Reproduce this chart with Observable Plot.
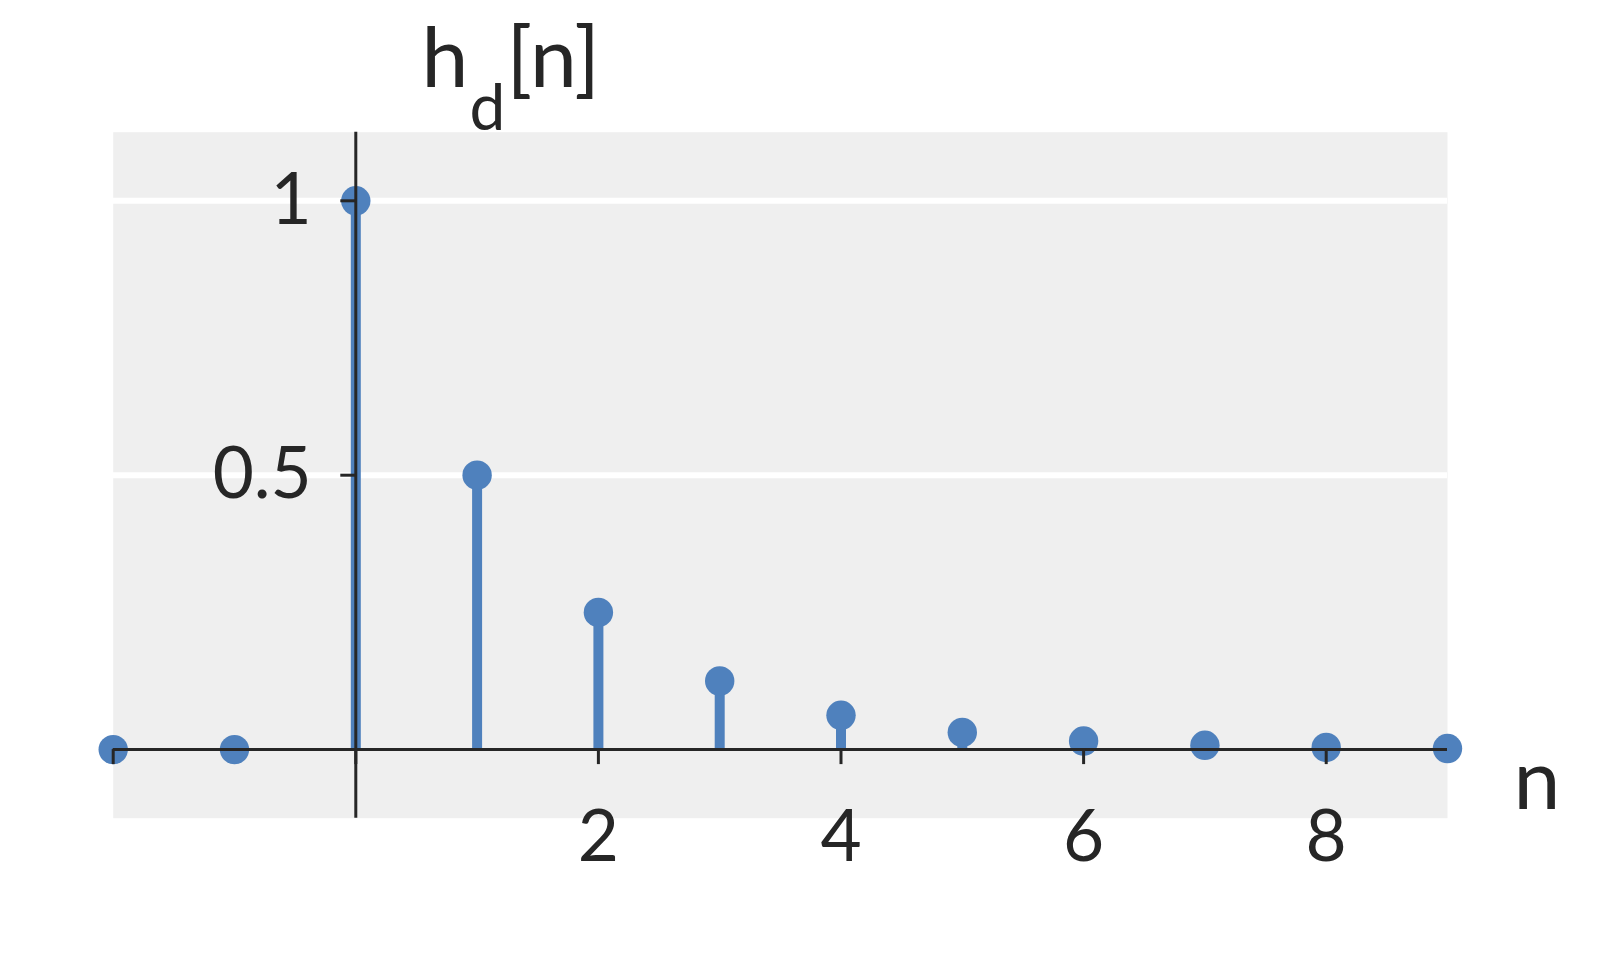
<!DOCTYPE html>
<html>
<head>
<meta charset="utf-8">
<script src="https://cdn.jsdelivr.net/npm/d3@7"></script>
<script src="https://cdn.jsdelivr.net/npm/@observablehq/plot@0.6"></script>
<style>
  html, body { margin: 0; padding: 0; background: #ffffff; }
  #chart { width: 1598px; height: 960px; }
</style>
</head>
<body>
<div id="chart"></div>
<script>
// ---- data ----
const nValues = [-2, -1, 0, 1, 2, 3, 4, 5, 6, 7, 8, 9];
const hValues = [0, 0, 1, 0.5, 0.25, 0.125, 0.0625, 0.03125, 0.015625, 0.0078125, 0.00390625, 0.001953125];
const xTicks = [-2, 0, 2, 4, 6, 8];
const xTickLabels = ["", "", "2", "4", "6", "8"];
const yTicks = [0.5, 1];
const yTickLabels = ["0.5", "1"];
const xDomain = [-2, 9];
const yDomain = [-0.125, 1.125];

const data = nValues.map((n, i) => ({n, h: hValues[i]}));

// ---- layout ----
const width = 1598, height = 960;
const marginLeft = 112.7, marginRight = 151, marginTop = 131.7, marginBottom = 142.3;
const blue = "#4F81BD";
const ink = "#262626";

const xPix = d3.scaleLinear(xDomain, [marginLeft, width - marginRight]);
const yPix = d3.scaleLinear(yDomain, [height - marginBottom, marginTop]);
const axisXdy = yPix(0) - (height - marginBottom);
const axisYdx = xPix(0) - marginLeft;

const chart = Plot.plot({
  width, height, marginLeft, marginRight, marginTop, marginBottom,
  style: {fontFamily: "Lato", fontSize: "71px", color: ink, background: "#ffffff"},
  x: {domain: xDomain, label: null},
  y: {domain: yDomain, label: null},
  marks: [
    Plot.frame({fill: "#EFEFEF", stroke: null}),
    Plot.ruleY(yTicks, {stroke: "#ffffff", strokeWidth: 6}),
    Plot.ruleX(data, {x: "n", y1: 0, y2: "h", stroke: blue, strokeWidth: 10}),
    Plot.dot(data, {x: "n", y: "h", r: 14.7, fill: blue, stroke: null}),
    Plot.ruleX([0], {stroke: ink, strokeWidth: 3}),
    Plot.ruleY([0], {stroke: ink, strokeWidth: 3}),
    Plot.axisX({
      anchor: "bottom", dy: axisXdy, ticks: xTicks,
      tickFormat: (d) => xTickLabels[xTicks.indexOf(d)],
      tickSize: 15, tickPadding: 46, strokeWidth: 3, label: null
    }),
    Plot.axisY({
      anchor: "left", dx: axisYdx, ticks: yTicks,
      tickFormat: (d) => yTickLabels[yTicks.indexOf(d)],
      tickSize: 15, tickPadding: 29, strokeWidth: 3, label: null
    }),
    Plot.text(["h"], {frameAnchor: "top-left", text: d => d, textAnchor: "start", lineAnchor: "bottom",
      dx: 421 - marginLeft, dy: 86 - marginTop, fontSize: 84, fill: ink}),
    Plot.text(["d"], {frameAnchor: "top-left", text: d => d, textAnchor: "start", lineAnchor: "bottom",
      dx: 469 - marginLeft, dy: 129 - marginTop, fontSize: 64, fill: ink}),
    Plot.text(["[n]"], {frameAnchor: "top-left", text: d => d, textAnchor: "start", lineAnchor: "bottom",
      dx: 506 - marginLeft, dy: 86 - marginTop, fontSize: 84, fill: ink}),
    Plot.text(["n"], {frameAnchor: "bottom-right", text: d => d, textAnchor: "start", lineAnchor: "bottom",
      dx: 1513 - (width - marginRight), dy: 808 - (height - marginBottom), fontSize: 84, fill: ink})
  ]
});
document.getElementById("chart").appendChild(chart);
</script>
</body>
</html>
